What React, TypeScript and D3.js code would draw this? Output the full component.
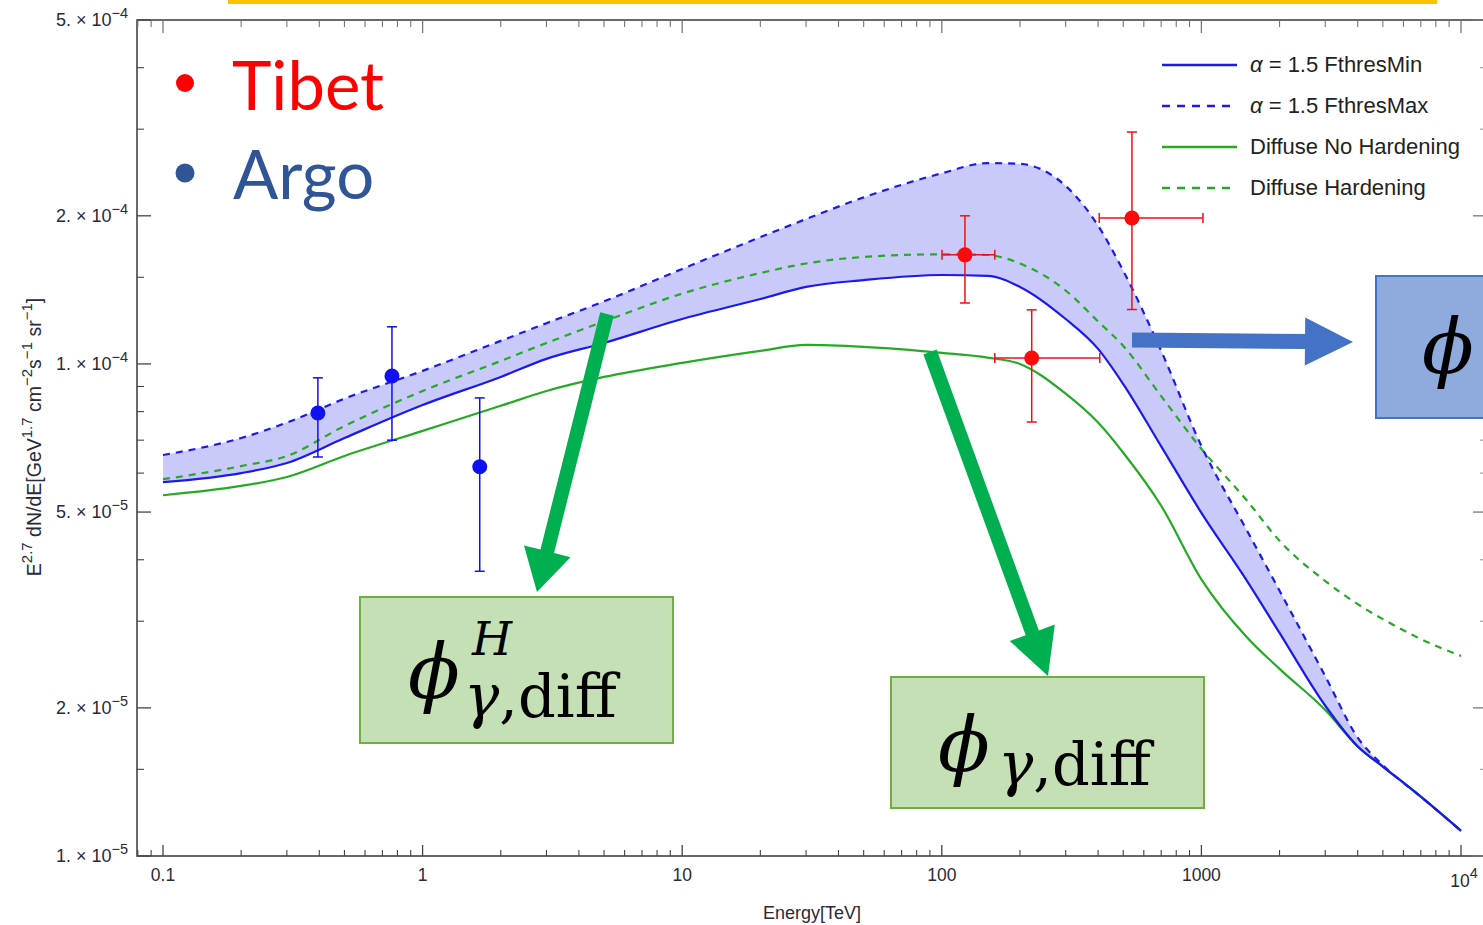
import React from "react";
import * as d3 from "d3";

// ---------- data ----------
const energies = [0.1, 0.2, 0.3, 0.5, 1, 2, 3, 5, 10, 20, 30, 50, 100, 150, 200, 300, 400, 500, 700, 1000, 1500, 2000, 3000, 4000, 5000, 7000, 10000];
const fthresMin = [5.75e-5, 6.0e-5, 6.29e-5, 7.07e-5, 8.25e-5, 9.41e-5, 1.024e-4, 1.103e-4, 1.234e-4, 1.355e-4, 1.434e-4, 1.48e-4, 1.516e-4, 1.51e-4, 1.434e-4, 1.234e-4, 1.073e-4, 9.1e-5, 6.8e-5, 4.98e-5, 3.62e-5, 2.84e-5, 2.02e-5, 1.67e-5, 1.52e-5, 1.32e-5, 1.125e-5];
const fthresMax = [6.53e-5, 7.07e-5, 7.6e-5, 8.5e-5, 9.68e-5, 1.114e-4, 1.21e-4, 1.34e-4, 1.56e-4, 1.81e-4, 1.97e-4, 2.18e-4, 2.44e-4, 2.56e-4, 2.55e-4, 2.30e-4, 1.91e-4, 1.546e-4, 1.063e-4, 6.81e-5, 4.58e-5, 3.46e-5, 2.32e-5, 1.74e-5, 1.53e-5, 1.32e-5, 1.125e-5];
const diffNoHard = [5.41e-5, 5.65e-5, 5.89e-5, 6.5e-5, 7.31e-5, 8.22e-5, 8.81e-5, 9.41e-5, 1.005e-4, 1.063e-4, 1.093e-4, 1.083e-4, 1.053e-4, 1.03e-4, 1.0e-4, 8.7e-5, 7.6e-5, 6.6e-5, 5.15e-5, 3.65e-5, 2.78e-5, 2.40e-5, 1.98e-5, 1.67e-5, 1.52e-5, 1.32e-5, 1.125e-5];
const diffHard = [5.83e-5, 6.2e-5, 6.5e-5, 7.48e-5, 8.81e-5, 1.014e-4, 1.103e-4, 1.22e-4, 1.39e-4, 1.53e-4, 1.60e-4, 1.65e-4, 1.67e-4, 1.665e-4, 1.60e-4, 1.41e-4, 1.22e-4, 1.088e-4, 8.6e-5, 6.72e-5, 5.27e-5, 4.37e-5, 3.62e-5, 3.25e-5, 3.03e-5, 2.76e-5, 2.55e-5];

// Argo data points: energy, value, lower, upper
const argoE = [0.395, 0.762, 1.66];
const argoV = [7.95e-5, 9.45e-5, 6.18e-5];
const argoLo = [6.47e-5, 7.0e-5, 3.79e-5];
const argoHi = [9.37e-5, 1.19e-4, 8.53e-5];

// Tibet data points
const tibetE = [122.8, 222, 540];
const tibetELo = [100.2, 160, 404];
const tibetEHi = [160, 406, 1014];
const tibetV = [1.666e-4, 1.028e-4, 1.98e-4];
const tibetLo = [1.33e-4, 7.62e-5, 1.29e-4];
const tibetHi = [2.0e-4, 1.288e-4, 2.96e-4];

// ticks
const xMajor = [0.1, 1, 10, 100, 1000, 10000];
const xMajorLabels = ["0.1", "1", "10", "100", "1000", "10^4"];
const xMinor = [0.08, 0.09, 0.2, 0.3, 0.4, 0.5, 0.6, 0.7, 0.8, 0.9, 2, 3, 4, 5, 6, 7, 8, 9, 20, 30, 40, 50, 60, 70, 80, 90, 200, 300, 400, 500, 600, 700, 800, 900, 2000, 3000, 4000, 5000, 6000, 7000, 8000, 9000];
const yMajor = [1e-5, 2e-5, 5e-5, 1e-4, 2e-4, 5e-4];
const yMajorMant = ["1.", "2.", "5.", "1.", "2.", "5."];
const yMajorExp = ["−5", "−5", "−5", "−4", "−4", "−4"];
const yMinor = [1.5e-5, 3e-5, 4e-5, 6e-5, 7e-5, 8e-5, 9e-5, 1.5e-4, 3e-4, 4e-4];

const legendLabels = ["= 1.5 FthresMin", "= 1.5 FthresMax", "Diffuse No Hardening", "Diffuse Hardening"];

// ---------- layout ----------
const W = 1483, H = 925;
const FL = 137, FR = 1487, FT = 20, FB = 856;
const BLUE = "#1a1aee";
const GREEN = "#25aa25";
const BAND = "#c9c9fa";
const AX = "#444";
const TXT = "#2a2a38";

const x = d3.scaleLog().domain([0.1, 10000]).range([163, 1461]);
const y = d3.scaleLog().domain([1e-5, 5e-4]).range([FB, FT]);

function arrow(x1: number, y1: number, x2: number, y2: number, sw: number, hl: number, hw: number) {
  const dx = x2 - x1, dy = y2 - y1;
  const L = Math.hypot(dx, dy);
  const ux = dx / L, uy = dy / L;
  const nx = -uy, ny = ux;
  const bx = x2 - ux * hl, by = y2 - uy * hl;
  const p = [
    [x1 + nx * sw / 2, y1 + ny * sw / 2],
    [bx + nx * sw / 2, by + ny * sw / 2],
    [bx + nx * hw / 2, by + ny * hw / 2],
    [x2, y2],
    [bx - nx * hw / 2, by - ny * hw / 2],
    [bx - nx * sw / 2, by - ny * sw / 2],
    [x1 - nx * sw / 2, y1 - ny * sw / 2],
  ];
  return p.map((q) => q.join(",")).join(" ");
}

export default function App() {
  const line = d3
    .line<number>()
    .x((_, i) => x(energies[i]))
    .y((d) => y(d))
    .curve(d3.curveMonotoneX);
  const band = d3
    .area<number>()
    .x((_, i) => x(energies[i]))
    .y0((_, i) => y(fthresMin[i]))
    .y1((d) => y(d))
    .curve(d3.curveMonotoneX);

  const sans = "'Liberation Sans', Arial, sans-serif";
  const serif = "'DejaVu Serif', serif";

  return (
    <svg width={W} height={H} style={{ position: "absolute", left: 0, top: 0, background: "#fff" }}>
      <defs>
        <clipPath id="plotclip">
          <rect x={FL} y={FT} width={FR - FL} height={FB - FT} />
        </clipPath>
      </defs>
      <rect x={0} y={0} width={W} height={H} fill="#fff" />
      {/* yellow title bar */}
      <rect x={228} y={0} width={1209} height={4} fill="#ffc000" />

      {/* band and curves */}
      <g clipPath="url(#plotclip)">
        <path d={band(fthresMax) || ""} fill={BAND} stroke="none" />
        <path d={line(diffNoHard) || ""} fill="none" stroke={GREEN} strokeWidth={2.2} />
        <path d={line(diffHard) || ""} fill="none" stroke={GREEN} strokeWidth={2.2} strokeDasharray="7,6" />
        <path d={line(fthresMin) || ""} fill="none" stroke={BLUE} strokeWidth={2.2} />
        <path d={line(fthresMax) || ""} fill="none" stroke={BLUE} strokeWidth={2.2} strokeDasharray="7,6" />
      </g>

      {/* Argo points */}
      {argoE.map((e, i) => (
        <g key={"a" + i} stroke="#1010f0" strokeWidth={1.5}>
          <line x1={x(e)} x2={x(e)} y1={y(argoLo[i])} y2={y(argoHi[i])} />
          <line x1={x(e) - 5} x2={x(e) + 5} y1={y(argoLo[i])} y2={y(argoLo[i])} />
          <line x1={x(e) - 5} x2={x(e) + 5} y1={y(argoHi[i])} y2={y(argoHi[i])} />
          <circle cx={x(e)} cy={y(argoV[i])} r={7.5} fill="#1010f0" stroke="none" />
        </g>
      ))}
      {/* Tibet points */}
      {tibetE.map((e, i) => (
        <g key={"t" + i} stroke="#f01010" strokeWidth={1.5}>
          <line x1={x(e)} x2={x(e)} y1={y(tibetLo[i])} y2={y(tibetHi[i])} />
          <line x1={x(e) - 5} x2={x(e) + 5} y1={y(tibetLo[i])} y2={y(tibetLo[i])} />
          <line x1={x(e) - 5} x2={x(e) + 5} y1={y(tibetHi[i])} y2={y(tibetHi[i])} />
          <line x1={x(tibetELo[i])} x2={x(tibetEHi[i])} y1={y(tibetV[i])} y2={y(tibetV[i])} />
          <line x1={x(tibetELo[i])} x2={x(tibetELo[i])} y1={y(tibetV[i]) - 5} y2={y(tibetV[i]) + 5} />
          <line x1={x(tibetEHi[i])} x2={x(tibetEHi[i])} y1={y(tibetV[i]) - 5} y2={y(tibetV[i]) + 5} />
          <circle cx={x(e)} cy={y(tibetV[i])} r={7.5} fill="#ff0a0a" stroke="none" />
        </g>
      ))}

      {/* frame */}
      <rect x={FL} y={FT} width={FR - FL} height={FB - FT} fill="none" stroke={AX} strokeWidth={1.6} />
      {/* x ticks */}
      {xMajor.map((v) => (
        <g key={"xm" + v} stroke={AX} strokeWidth={1.3}>
          <line x1={x(v)} x2={x(v)} y1={FB} y2={FB - 11} />
          <line x1={x(v)} x2={x(v)} y1={FT} y2={FT + 13} stroke="#777" />
        </g>
      ))}
      {xMinor.map((v) => (
        <g key={"xn" + v} stroke={AX} strokeWidth={1.1}>
          <line x1={x(v)} x2={x(v)} y1={FB} y2={FB - 6} />
          <line x1={x(v)} x2={x(v)} y1={FT} y2={FT + 7} stroke="#777" />
        </g>
      ))}
      {/* y ticks */}
      {yMajor.map((v) => (
        <g key={"ym" + v} stroke={AX} strokeWidth={1.3}>
          <line x1={FL} x2={FL + 14} y1={y(v)} y2={y(v)} />
          <line x1={FR} x2={FR - 14} y1={y(v)} y2={y(v)} stroke="#777" />
        </g>
      ))}
      {yMinor.map((v) => (
        <g key={"yn" + v} stroke={AX} strokeWidth={1.1}>
          <line x1={FL} x2={FL + 7} y1={y(v)} y2={y(v)} />
          <line x1={FR} x2={FR - 7} y1={y(v)} y2={y(v)} stroke="#999" />
        </g>
      ))}

      {/* y tick labels */}
      {yMajor.map((v, i) => (
        <text key={"yl" + v} x={128} y={y(v) + 6} textAnchor="end" fontFamily={sans} fontSize={18} fill={TXT}>
          {yMajorMant[i] + " × 10"}
          <tspan dy={-8} fontSize={14.5}>{yMajorExp[i]}</tspan>
        </text>
      ))}
      {/* x tick labels */}
      {xMajor.map((v, i) =>
        xMajorLabels[i].includes("^") ? (
          <text key={"xl" + v} x={x(v) + 3} y={887} textAnchor="middle" fontFamily={sans} fontSize={17.5} fill={TXT}>
            {xMajorLabels[i].split("^")[0]}
            <tspan dy={-9} fontSize={14.5}>{xMajorLabels[i].split("^")[1]}</tspan>
          </text>
        ) : (
          <text key={"xl" + v} x={x(v)} y={881} textAnchor="middle" fontFamily={sans} fontSize={17.5} fill={TXT}>
            {xMajorLabels[i]}
          </text>
        )
      )}

      {/* axis titles */}
      <text x={812} y={919} textAnchor="middle" fontFamily={sans} fontSize={18} fill={TXT}>Energy[TeV]</text>
      <text transform="translate(41,437) rotate(-90)" textAnchor="middle" fontFamily={sans} fontSize={19.5} fill={TXT}>
        E<tspan dy={-9} fontSize={15}>2.7</tspan>
        <tspan dy={9}> dN/dE[GeV</tspan>
        <tspan dy={-9} fontSize={15}>1.7</tspan>
        <tspan dy={9}> cm</tspan>
        <tspan dy={-9} fontSize={15}>−2</tspan>
        <tspan dy={9}>s</tspan>
        <tspan dy={-9} fontSize={15}>−1</tspan>
        <tspan dy={9}> sr</tspan>
        <tspan dy={-9} fontSize={15}>−1</tspan>
        <tspan dy={9}>]</tspan>
      </text>

      {/* legend */}
      {legendLabels.map((lab, i) => {
        const ly = 65 + i * 41;
        const col = i < 2 ? BLUE : GREEN;
        return (
          <g key={"lg" + i}>
            <line x1={1162} x2={1237} y1={ly} y2={ly} stroke={col} strokeWidth={2.5} strokeDasharray={i % 2 === 1 ? "8,7" : undefined} />
            <text x={1250} y={ly + 7} fontFamily={sans} fontSize={22} fill="#222">
              {i < 2 ? <tspan fontStyle="italic">α </tspan> : null}
              {lab}
            </text>
          </g>
        );
      })}

      {/* Tibet / Argo labels */}
      <circle cx={185} cy={83} r={9} fill="#ff0000" />
      <text x={232} y={110} fontFamily="Lato, 'Open Sans', sans-serif" fontSize={67} fill="#ff0000">Tibet</text>
      <circle cx={185} cy={173} r={9.5} fill="#2f5597" />
      <text x={233} y={199} fontFamily="Lato, 'Open Sans', sans-serif" fontSize={67} fill="#2f5597">Argo</text>

      {/* arrows */}
      <polygon points={arrow(607, 314, 537, 592, 14, 42, 48)} fill="#00b050" />
      <polygon points={arrow(930, 352, 1048, 676, 14, 46, 48)} fill="#00b050" />
      <polygon points={arrow(1132, 340, 1353, 342, 15, 48, 48)} fill="#4472c4" />

      {/* boxes */}
      <rect x={360} y={597} width={313} height={146} fill="#c5e0b4" stroke="#70ad47" strokeWidth={2} />
      <text x={408} y={698} fontFamily={serif} fontStyle="italic" fontSize={76} fill="#000">ϕ</text>
      <text x={472} y={655} fontFamily={serif} fontStyle="italic" fontSize={46} fill="#000">H</text>
      <text x={464} y={717} fontFamily={serif} fontSize={59} fill="#000">
        <tspan fontStyle="italic">γ</tspan>,diff
      </text>

      <rect x={891} y={677} width={313} height={131} fill="#c5e0b4" stroke="#70ad47" strokeWidth={2} />
      <text x={938} y={771} fontFamily={serif} fontStyle="italic" fontSize={76} fill="#000">ϕ</text>
      <text x={998} y={785} fontFamily={serif} fontSize={59} fill="#000">
        <tspan fontStyle="italic">γ</tspan>,diff
      </text>

      <rect x={1376} y={276} width={120} height={142} fill="#8faadc" stroke="#4472c4" strokeWidth={2} />
      <text x={1422} y={373} fontFamily={serif} fontStyle="italic" fontSize={76} fill="#000">ϕ</text>
    </svg>
  );
}
